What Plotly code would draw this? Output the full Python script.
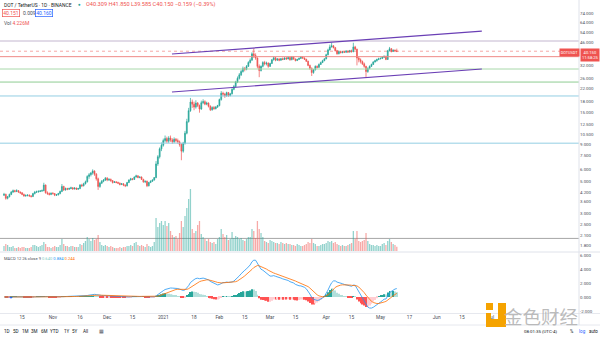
import pandas as pd
import plotly.graph_objects as go

# ---------------- data ----------------
start_date = "2020-10-05"

opens = [
4.00, 4.05, 3.80, 3.90, 4.05, 4.20, 4.30, 4.25, 4.30, 4.20,
4.15, 4.05, 3.95, 3.98, 4.00, 3.95, 3.92, 4.10, 4.20, 4.22,
4.25, 4.28, 4.30, 4.70, 4.15, 4.10, 4.05, 4.12, 4.10, 4.00,
4.02, 4.10, 4.25, 4.60, 4.35, 4.45, 4.40, 4.45, 4.50, 4.42,
4.48, 4.40, 4.45, 4.70, 4.65, 4.80, 4.95, 5.40, 5.55, 5.70,
5.90, 5.60, 5.20, 4.60, 4.85, 5.00, 5.10, 5.25, 5.10, 5.15,
5.05, 4.90, 4.95, 4.90, 4.85, 4.75, 4.80, 4.70, 4.65, 4.90,
5.10, 5.20, 5.15, 5.35, 5.45, 5.30, 5.35, 5.15, 4.95, 5.00,
4.65, 4.90, 5.00, 5.10, 5.30, 6.60, 7.40, 8.40, 8.90, 9.60,
9.90, 9.50, 10.00, 9.70, 9.40, 9.80, 9.60, 9.40, 9.00, 8.10,
9.20, 10.80, 13.00, 15.50, 17.80, 17.20, 16.40, 17.50, 16.80, 15.90,
17.60, 17.90, 17.20, 17.50, 16.60, 15.70, 16.30, 16.00, 16.40, 16.80,
18.50, 20.50, 20.20, 19.60, 20.70, 19.70, 20.30, 21.80, 22.80, 24.50,
26.00, 27.50, 29.00, 30.50, 30.00, 31.50, 33.50, 34.80, 38.50, 37.50,
36.00, 31.50, 29.50, 31.50, 33.50, 32.80, 33.20, 31.50, 33.00, 35.00,
36.20, 34.80, 35.50, 34.80, 35.60, 35.20, 36.00, 35.50, 36.30, 35.00,
36.50, 35.40, 34.60, 35.20, 35.80, 36.50, 36.00, 35.30, 34.20, 32.00,
30.50, 28.50, 29.80, 31.50, 31.00, 32.50, 33.50, 34.50, 35.50, 38.00,
41.00, 43.00, 43.80, 42.50, 40.50, 38.50, 40.00, 39.20, 39.80, 39.50,
40.20, 39.60, 40.50, 39.80, 43.00, 41.50, 36.00, 35.00, 34.00, 32.80,
31.50, 29.00, 30.50, 31.50, 32.50, 33.80, 34.50, 35.20, 35.60, 35.80,
36.50, 37.00, 35.20, 40.50, 41.80, 40.00, 40.80, 40.309]

highs = [
4.15, 4.10, 3.95, 4.10, 4.28, 4.38, 4.36, 4.40, 4.34, 4.25,
4.20, 4.10, 4.05, 4.06, 4.05, 4.00, 4.15, 4.28, 4.30, 4.32,
4.34, 4.38, 4.88, 4.75, 4.25, 4.18, 4.18, 4.20, 4.14, 4.08,
4.15, 4.30, 4.78, 4.65, 4.52, 4.50, 4.52, 4.58, 4.55, 4.55,
4.52, 4.50, 4.78, 4.80, 4.88, 5.05, 5.50, 5.70, 5.80, 6.05,
5.95, 5.70, 5.30, 4.95, 5.10, 5.18, 5.35, 5.35, 5.25, 5.22,
5.10, 5.02, 5.00, 4.97, 4.90, 4.86, 4.85, 4.76, 4.95, 5.15,
5.28, 5.25, 5.40, 5.55, 5.50, 5.42, 5.40, 5.20, 5.06, 5.05,
4.95, 5.08, 5.15, 5.35, 6.90, 7.60, 8.60, 9.30, 9.90, 10.40,
10.20, 10.30, 10.40, 9.95, 10.10, 10.00, 9.90, 9.60, 9.20, 9.40,
11.20, 13.60, 16.20, 19.00, 18.50, 17.90, 18.30, 17.80, 17.10, 18.20,
18.60, 18.30, 17.90, 17.70, 16.90, 16.60, 16.70, 16.70, 17.00, 18.80,
21.20, 21.00, 20.60, 21.00, 20.90, 20.60, 22.20, 23.40, 25.00, 26.80,
28.30, 29.80, 31.40, 31.20, 32.20, 34.20, 35.80, 39.50, 42.00, 38.80,
36.40, 32.50, 32.00, 34.20, 34.40, 34.00, 33.60, 33.40, 35.40, 36.80,
36.60, 36.00, 35.90, 36.00, 36.30, 36.50, 36.60, 36.90, 36.80, 37.20,
37.00, 35.80, 35.60, 36.30, 37.00, 36.90, 36.40, 35.60, 34.50, 32.40,
31.00, 30.20, 32.00, 32.00, 33.00, 34.00, 35.00, 36.00, 38.60, 41.80,
44.60, 46.00, 44.20, 43.00, 41.00, 40.60, 40.50, 40.30, 40.40, 40.90,
40.80, 41.00, 41.20, 46.00, 43.80, 41.80, 36.80, 35.80, 34.60, 33.50,
31.80, 31.00, 32.00, 32.90, 34.20, 35.00, 35.60, 36.20, 36.30, 36.90,
37.50, 37.40, 41.00, 43.00, 42.20, 41.40, 41.30, 41.85]

lows = [
3.95, 3.72, 3.74, 3.86, 4.00, 4.15, 4.18, 4.20, 4.15, 4.08,
4.00, 3.90, 3.90, 3.92, 3.90, 3.85, 3.88, 4.05, 4.14, 4.16,
4.20, 4.22, 4.26, 4.10, 4.02, 3.98, 4.00, 4.04, 3.94, 3.95,
3.98, 4.06, 4.20, 4.28, 4.30, 4.33, 4.35, 4.40, 4.36, 4.38,
4.35, 4.36, 4.40, 4.55, 4.60, 4.75, 4.90, 5.20, 5.40, 5.55,
5.45, 5.05, 4.35, 4.50, 4.78, 4.92, 5.02, 5.00, 5.02, 4.95,
4.82, 4.86, 4.84, 4.78, 4.68, 4.70, 4.62, 4.55, 4.60, 4.85,
5.05, 5.08, 5.10, 5.30, 5.25, 5.25, 5.10, 4.88, 4.85, 4.55,
4.60, 4.85, 4.95, 5.05, 5.25, 6.40, 7.20, 8.10, 8.70, 9.30,
9.20, 9.20, 9.40, 9.10, 9.20, 9.30, 9.10, 8.70, 7.00, 7.90,
9.00, 10.60, 12.80, 15.20, 16.20, 15.60, 16.00, 16.40, 15.00, 15.70,
17.20, 16.90, 16.90, 16.30, 15.40, 15.50, 15.70, 15.80, 16.20, 16.60,
18.20, 19.50, 19.00, 19.40, 19.30, 19.50, 20.10, 21.50, 22.40, 24.10,
25.50, 27.00, 28.50, 29.10, 29.60, 31.20, 33.00, 34.50, 36.00, 35.00,
30.50, 26.50, 29.00, 31.00, 32.00, 32.00, 30.80, 31.20, 32.80, 34.60,
34.20, 34.40, 34.20, 34.50, 34.80, 34.90, 35.00, 35.20, 34.50, 34.80,
35.00, 34.10, 34.30, 35.00, 35.50, 35.60, 34.90, 33.80, 31.60, 29.80,
27.00, 28.00, 29.50, 30.50, 30.80, 32.20, 33.20, 34.20, 35.30, 37.60,
40.60, 42.60, 42.00, 40.00, 38.00, 38.20, 38.80, 38.90, 39.00, 39.20,
39.10, 39.30, 39.40, 39.60, 40.80, 32.00, 33.60, 33.00, 32.20, 30.80,
26.50, 28.40, 30.00, 31.20, 32.20, 33.50, 34.00, 34.80, 35.20, 35.40,
36.00, 34.80, 35.00, 40.00, 39.40, 39.80, 39.70, 39.585]

closes = [
4.05, 3.80, 3.90, 4.05, 4.20, 4.30, 4.25, 4.30, 4.20, 4.15,
4.05, 3.95, 3.98, 4.00, 3.95, 3.92, 4.10, 4.20, 4.22, 4.25,
4.28, 4.30, 4.70, 4.15, 4.10, 4.05, 4.12, 4.10, 4.00, 4.02,
4.10, 4.25, 4.60, 4.35, 4.45, 4.40, 4.45, 4.50, 4.42, 4.48,
4.40, 4.45, 4.70, 4.65, 4.80, 4.95, 5.40, 5.55, 5.70, 5.90,
5.60, 5.20, 4.60, 4.85, 5.00, 5.10, 5.25, 5.10, 5.15, 5.05,
4.90, 4.95, 4.90, 4.85, 4.75, 4.80, 4.70, 4.65, 4.90, 5.10,
5.20, 5.15, 5.35, 5.45, 5.30, 5.35, 5.15, 4.95, 5.00, 4.65,
4.90, 5.00, 5.10, 5.30, 6.60, 7.40, 8.40, 8.90, 9.60, 9.90,
9.50, 10.00, 9.70, 9.40, 9.80, 9.60, 9.40, 9.00, 8.10, 9.20,
10.80, 13.00, 15.50, 17.80, 17.20, 16.40, 17.50, 16.80, 15.90, 17.60,
17.90, 17.20, 17.50, 16.60, 15.70, 16.30, 16.00, 16.40, 16.80, 18.50,
20.50, 20.20, 19.60, 20.70, 19.70, 20.30, 21.80, 22.80, 24.50, 26.00,
27.50, 29.00, 30.50, 30.00, 31.50, 33.50, 34.80, 38.50, 37.50, 36.00,
31.50, 29.50, 31.50, 33.50, 32.80, 33.20, 31.50, 33.00, 35.00, 36.20,
34.80, 35.50, 34.80, 35.60, 35.20, 36.00, 35.50, 36.30, 35.00, 36.50,
35.40, 34.60, 35.20, 35.80, 36.50, 36.00, 35.30, 34.20, 32.00, 30.50,
28.50, 29.80, 31.50, 31.00, 32.50, 33.50, 34.50, 35.50, 38.00, 41.00,
43.00, 43.80, 42.50, 40.50, 38.50, 40.00, 39.20, 39.80, 39.50, 40.20,
39.60, 40.50, 39.80, 43.00, 41.50, 36.00, 35.00, 34.00, 32.80, 31.50,
29.00, 30.50, 31.50, 32.50, 33.80, 34.50, 35.20, 35.60, 35.80, 36.50,
37.00, 35.20, 40.50, 41.80, 40.00, 40.80, 40.31, 40.15]

volumes = [  # millions
5, 7, 6, 4, 4, 5, 3, 3, 4, 3,
4, 4, 3, 3, 3, 4, 6, 6, 5, 4,
5, 6, 9, 7, 4, 4, 3, 4, 5, 4,
4, 6, 12, 7, 5, 5, 4, 5, 5, 4,
4, 4, 7, 6, 8, 10, 14, 12, 10, 13,
11, 12, 16, 9, 6, 5, 6, 5, 4, 5,
4, 3, 3, 3, 4, 3, 4, 4, 5, 5,
6, 5, 8, 9, 6, 5, 6, 5, 4, 7,
5, 4, 5, 9, 33, 24, 28, 30, 26, 30,
25, 28, 20, 16, 14, 15, 12, 18, 30, 24,
35, 43, 52, 62, 22, 18, 20, 26, 30, 17,
14, 12, 10, 12, 9, 8, 9, 7, 12, 14,
22, 17, 14, 16, 11, 12, 19, 13, 15, 14,
12, 13, 11, 10, 12, 14, 14, 22, 20, 13,
30, 22, 18, 14, 10, 9, 8, 11, 10, 9,
8, 8, 7, 9, 8, 7, 8, 7, 7, 6,
6, 5, 7, 6, 5, 5, 6, 7, 9, 8,
12, 8, 7, 5, 5, 6, 7, 7, 8, 10,
9, 10, 8, 9, 7, 6, 5, 6, 5, 5,
6, 7, 8, 20, 12, 20, 10, 9, 10, 11,
18, 10, 7, 6, 6, 5, 6, 5, 5, 7,
8, 6, 10, 12, 9, 7, 6, 4.226]

price_ticks = [1.8, 2.1, 2.5, 3.0, 3.6, 4.2, 5.0, 6.0, 7.5, 9.0, 10.5, 12.5,
               15.0, 18.0, 22.0, 26.0, 32.0, 46.0, 54.0, 64.0, 74.0]
macd_ticks = [-2, 0, 2, 4, 6]

date_ticks = ["2020-10-15", "2020-11-01", "2020-11-16", "2020-12-01", "2020-12-15",
              "2021-01-01", "2021-01-18", "2021-02-01", "2021-02-15", "2021-03-01",
              "2021-03-15", "2021-04-01", "2021-04-15", "2021-05-01", "2021-05-17",
              "2021-06-01", "2021-06-15", "2021-07-01"]
date_labels = ["15", "Nov", "16", "Dec", "15", "2021", "18", "Feb", "15", "Mar",
               "15", "Apr", "15", "May", "17", "Jun", "15", "Jul"]

# drawn horizontal levels
level_prices = [47.3, 36.8, 30.2, 24.5, 19.6, 9.2, 2.0]
level_colors = ["#c3b6cf", "#ef8a87", "#a8d8aa", "#8fcc92", "#93cfe3", "#93cfe3", "#a6a6a6"]
last_price = 40.15

# drawn parallel channel
channel_dates = ["2021-01-05 19:00", "2021-06-26 00:00"]
channel_upper = [38.4, 55.5]
channel_lower = [20.9, 30.2]

x_start, x_end = "2020-10-02 19:00", "2021-08-18 16:00"

# ---------------- derived ----------------
W, H = 600, 337
def px(x): return x / W
def py(y): return 1 - y / H

dates = pd.date_range(start_date, periods=len(closes), freq="D")
ups = [c >= o for o, c in zip(opens, closes)]
vol_colors = ["rgba(38,166,154,0.5)" if u else "rgba(239,83,80,0.5)" for u in ups]

def ema(vals, n):
    k = 2.0 / (n + 1)
    out, prev = [], vals[0]
    for v in vals:
        prev = v * k + prev * (1 - k)
        out.append(prev)
    return out

e12, e26 = ema(closes, 12), ema(closes, 26)
macd_line = [a - b for a, b in zip(e12, e26)]
signal = ema(macd_line, 9)
hist = [m - s for m, s in zip(macd_line, signal)]
hist_colors = []
for i, h in enumerate(hist):
    prev = hist[i - 1] if i > 0 else h
    if h >= 0:
        hist_colors.append("#26a69a" if h >= prev else "#b2dfdb")
    else:
        hist_colors.append("#ff5252" if h <= prev else "#ffcdd2")

DAY = 86400000
fig = go.Figure()

fig.add_trace(go.Bar(x=dates, y=volumes, marker=dict(color=vol_colors, line=dict(width=0)),
                     width=0.7 * DAY, xaxis="x", yaxis="y3", hoverinfo="skip"))

for p, col in zip(level_prices, level_colors):
    fig.add_trace(go.Scatter(x=[x_start, x_end], y=[p, p], mode="lines",
                             line=dict(color=col, width=1), xaxis="x", yaxis="y", hoverinfo="skip"))
fig.add_trace(go.Scatter(x=[x_start, x_end], y=[last_price, last_price], mode="lines",
                         line=dict(color="rgba(239,83,80,0.5)", width=1, dash="dot"),
                         xaxis="x", yaxis="y", hoverinfo="skip"))

for ys in (channel_upper, channel_lower):
    fig.add_trace(go.Scatter(x=channel_dates, y=ys, mode="lines",
                             line=dict(color="#6a3fb5", width=1.2), xaxis="x", yaxis="y", hoverinfo="skip"))

fig.add_trace(go.Candlestick(
    x=dates, open=opens, high=highs, low=lows, close=closes,
    increasing=dict(line=dict(color="#26a69a", width=0.7), fillcolor="#26a69a"),
    decreasing=dict(line=dict(color="#ef5350", width=0.7), fillcolor="#ef5350"),
    whiskerwidth=0, xaxis="x", yaxis="y", hoverinfo="skip"))

fig.add_trace(go.Bar(x=dates, y=hist, marker=dict(color=hist_colors, line=dict(width=0)),
                     width=0.55 * DAY, xaxis="x2", yaxis="y2", hoverinfo="skip"))
fig.add_trace(go.Scatter(x=dates, y=macd_line, mode="lines", line=dict(color="#2196f3", width=0.8),
                         xaxis="x2", yaxis="y2", hoverinfo="skip"))
fig.add_trace(go.Scatter(x=dates, y=signal, mode="lines", line=dict(color="#ff6d00", width=0.8),
                         xaxis="x2", yaxis="y2", hoverinfo="skip"))

FONT = "Roboto, Liberation Sans, sans-serif"
TXT = "#4a4e59"
xdom = [0, px(579)]

fig.update_layout(
    width=W, height=H, margin=dict(l=0, r=0, t=0, b=0),
    paper_bgcolor="white", plot_bgcolor="white", showlegend=False,
    font=dict(family=FONT, size=5, color=TXT), hovermode=False,
    xaxis=dict(domain=xdom, range=[x_start, x_end], anchor="y", showticklabels=False,
               showgrid=False, zeroline=False, rangeslider=dict(visible=False), fixedrange=True),
    xaxis2=dict(domain=xdom, matches="x", anchor="y2", showgrid=False, zeroline=False,
                tickvals=date_ticks, ticktext=date_labels, ticks="", ticklen=0,
                tickfont=dict(size=4.8, color=TXT)),
    yaxis=dict(domain=[py(251), 1], type="log", range=[0.2135, 1.9602], side="right",
               anchor="x", tickvals=price_ticks, ticktext=[f"{v:.3f}" for v in price_ticks],
               showgrid=False, zeroline=False, ticks="", tickfont=dict(size=4.4, color=TXT)),
    yaxis3=dict(overlaying="y", range=[0, 251], visible=False, anchor="x"),
    yaxis2=dict(domain=[py(313), py(252)], range=[-2.29, 6.43], side="right", anchor="x2",
                tickvals=macd_ticks, ticktext=[f"{v:.3f}" for v in macd_ticks],
                showgrid=False, zeroline=False, ticks="", tickfont=dict(size=4.4, color=TXT)),
)

shapes = [
    dict(type="line", xref="paper", yref="paper", x0=0, x1=1, y0=py(252), y1=py(252),
         line=dict(color="#dfe2ea", width=1)),
    dict(type="line", xref="paper", yref="paper", x0=0, x1=1, y0=py(313.5), y1=py(313.5),
         line=dict(color="#e6e8ee", width=1)),
    dict(type="line", xref="paper", yref="paper", x0=0, x1=1, y0=py(325), y1=py(325),
         line=dict(color="#e6e8ee", width=1)),
    dict(type="line", xref="paper", yref="paper", x0=px(579), x1=px(579), y0=py(0), y1=py(325),
         line=dict(color="#dfe2ea", width=1)),
    # watermark logo
    dict(type="rect", xref="paper", yref="paper", x0=px(486), x1=px(493), y0=py(310), y1=py(303),
         fillcolor="#f5a300", line=dict(width=0)),
    dict(type="rect", xref="paper", yref="paper", x0=px(498), x1=px(506), y0=py(326), y1=py(303),
         fillcolor="#f5a300", line=dict(width=0)),
    dict(type="rect", xref="paper", yref="paper", x0=px(486), x1=px(506), y0=py(327), y1=py(319),
         fillcolor="#f5a300", line=dict(width=0)),
    dict(type="rect", xref="paper", yref="paper", x0=px(486), x1=px(491), y0=py(322), y1=py(313),
         fillcolor="#f5a300", line=dict(width=0)),
]
fig.update_layout(shapes=shapes)

anns = []
def ann(text, x, y, size=5, color=TXT, xanchor="left", **kw):
    fam = kw.pop("family", FONT)
    anns.append(dict(text=text, x=px(x), y=py(y), xref="paper", yref="paper", showarrow=False,
                     xanchor=xanchor, yanchor="middle", font=dict(size=size, color=color, family=fam), **kw))

RED = "#ef5350"
ann("DOT / TetherUS · 1D · BINANCE", 2, 5, size=4.9, color="#131722")
ann("●", 76, 5, size=4.5, color="#26a69a")
ann("O40.309 H41.850 L39.585 C40.150 −0.159 (−0.39%)", 84, 5, size=5.6, color=RED)
ann("40.151", 2, 13.5, size=5.0, color=RED, bordercolor=RED, borderwidth=0.7, borderpad=0.5)
ann("0.009", 20.5, 13.5, size=5.0, color=TXT)
ann("40.160", 35, 13.5, size=5.0, color="#2962ff", bordercolor="#2962ff", borderwidth=0.7, borderpad=0.5)
ann("Vol <span style='color:#ef5350'>4.226M</span>", 2, 23, size=5, color=TXT)

ann("MACD 12 26 close 9 <span style='color:#80cbc4'>0.640</span> "
    "<span style='color:#2196f3'>0.884</span> <span style='color:#ff6d00'>0.244</span>",
    2, 258, size=4.1, color=TXT)
ann("◒", 7, 296, size=6, color="#2962ff")

ann("DOTUSDT", 569.5, 52, size=3.8, color="white", xanchor="center", bgcolor=RED, borderpad=0.8)
ann("40.150<br>11:58:25", 590, 55, size=4.1, color="white", xanchor="center", bgcolor=RED,
    borderpad=1, align="center")

for lbl, x in zip(["1D", "5D", "1M", "3M", "6M", "YTD", "1Y", "5Y", "All"],
                  [7, 15.5, 25, 34.5, 44.5, 55, 66.5, 75, 85]):
    ann(lbl, x, 331, size=4.6, color="#131722", xanchor="center")
ann("▦", 101, 331, size=5, color="#50535e", xanchor="center")
ann("08:01:35 (UTC-4)", 540, 331, size=4.4, color="#131722", xanchor="center")
ann("%", 572, 331, size=4.5, color="#131722", xanchor="center")
ann("log", 582, 331, size=4.5, color="#2962ff", xanchor="center")
ann("auto", 593, 331, size=4.5, color="#131722", xanchor="center")

ann("金色财经", 541, 316, size=18.5, color="rgba(175,175,175,0.85)", xanchor="center",
    family="Noto Sans CJK SC")

fig.update_layout(annotations=anns)
fig.write_html("out.html", config={"displayModeBar": False})
